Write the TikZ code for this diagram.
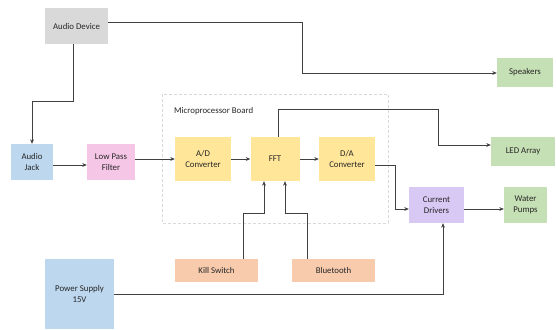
\documentclass[tikz,border=0pt]{standalone}
\usepackage{fontspec}
\setmainfont{Carlito}
\usetikzlibrary{arrows.meta}
\definecolor{gry}{HTML}{D9D9D9}
\definecolor{blu}{HTML}{BDD7EE}
\definecolor{pnk}{HTML}{F6C6E6}
\definecolor{yel}{HTML}{FFE699}
\definecolor{grn}{HTML}{C5E0B4}
\definecolor{pur}{HTML}{D8C8F4}
\definecolor{org}{HTML}{F8CBAD}
\definecolor{ln}{HTML}{404040}
\tikzset{
  blk/.style={draw=none, inner sep=0pt, align=center, font=\fontsize{8.8}{11}\selectfont, text=black!85},
  wire/.style={draw=ln, line width=1pt, -{Stealth[length=4.5pt,width=3.8pt]}},
}
\begin{document}
\begin{tikzpicture}[x=1pt,y=-1pt]
\useasboundingbox (0,0) rectangle (556,329);
\fill[white] (0,0) rectangle (556,329);
% boxes
\node[blk, fill=gry, minimum width=63pt, minimum height=36pt] (ad) at (76.5,26) {Audio Device};
\node[blk, fill=grn, minimum width=56pt, minimum height=29pt] (spk) at (525,72.5) {Speakers};
\node[blk, fill=grn, minimum width=64pt, minimum height=29pt] (led) at (523,151.5) {LED Array};
\node[blk, fill=blu, minimum width=42pt, minimum height=36pt] (jack) at (32,162) {Audio\\Jack};
\node[blk, fill=pnk, minimum width=48pt, minimum height=36pt] (lpf) at (111,162) {Low Pass\\Filter};
\draw[gry, dashed, line width=0.9pt, dash pattern=on 3pt off 2pt] (162,94) rectangle (388,223);
\node[blk, anchor=west] (mpb) at (174,111) {Microprocessor Board};
\node[blk, fill=yel, minimum width=56pt, minimum height=44pt] (adc) at (203,159) {A/D\\Converter};
\node[blk, fill=yel, minimum width=49pt, minimum height=44pt] (fft) at (275,159) {FFT};
\node[blk, fill=yel, minimum width=56pt, minimum height=44pt] (dac) at (347,159) {D/A\\Converter};
\node[blk, fill=pur, minimum width=55pt, minimum height=36pt] (cd) at (436.5,205) {Current\\Drivers};
\node[blk, fill=grn, minimum width=43pt, minimum height=36pt] (wp) at (525.5,205) {Water\\Pumps};
\node[blk, fill=org, minimum width=83pt, minimum height=23pt] (ks) at (216.5,270.5) {Kill Switch};
\node[blk, fill=org, minimum width=83pt, minimum height=23pt] (bt) at (333.5,270.5) {Bluetooth};
\node[blk, fill=blu, minimum width=69pt, minimum height=70pt] (ps) at (79.5,294) {Power Supply\\15V};
% connectors
\coordinate (c1) at (73,101);
\draw[wire] (ad.south -| c1) -- (c1) -- (32,101) -- (jack.north);
\coordinate (c2) at (302,23);
\draw[wire] (ad.east |- c2) -- (c2) -- (302,73) -- (spk.west |- 0,73);
\draw[wire] (jack.east |- 0,165) -- (lpf.west |- 0,165);
\draw[wire] (lpf.east |- 0,159) -- (adc.west |- 0,159);
\draw[wire] (adc.east |- 0,159) -- (fft.west |- 0,159);
\draw[wire] (fft.east |- 0,159) -- (dac.west |- 0,159);
\coordinate (c3) at (278,109);
\draw[wire] (fft.north -| c3) -- (c3) -- (438,109) -- (438,145) -- (led.west |- 0,145);
\coordinate (c4) at (395,165);
\draw[wire] (dac.east |- c4) -- (c4) -- (395,209) -- (cd.west |- 0,209);
\draw[wire] (cd.east |- 0,209) -- (wp.west |- 0,209);
\coordinate (c5) at (243,213);
\draw[wire] (ks.north -| c5) -- (c5) -- (264,213) -- (fft.south -| 264,0);
\coordinate (c6) at (307,213);
\draw[wire] (bt.north -| c6) -- (c6) -- (285,213) -- (fft.south -| 285,0);
\coordinate (c7) at (443,294);
\draw[wire] (ps.east |- c7) -- (c7) -- (cd.south -| c7);
\end{tikzpicture}
\end{document}
